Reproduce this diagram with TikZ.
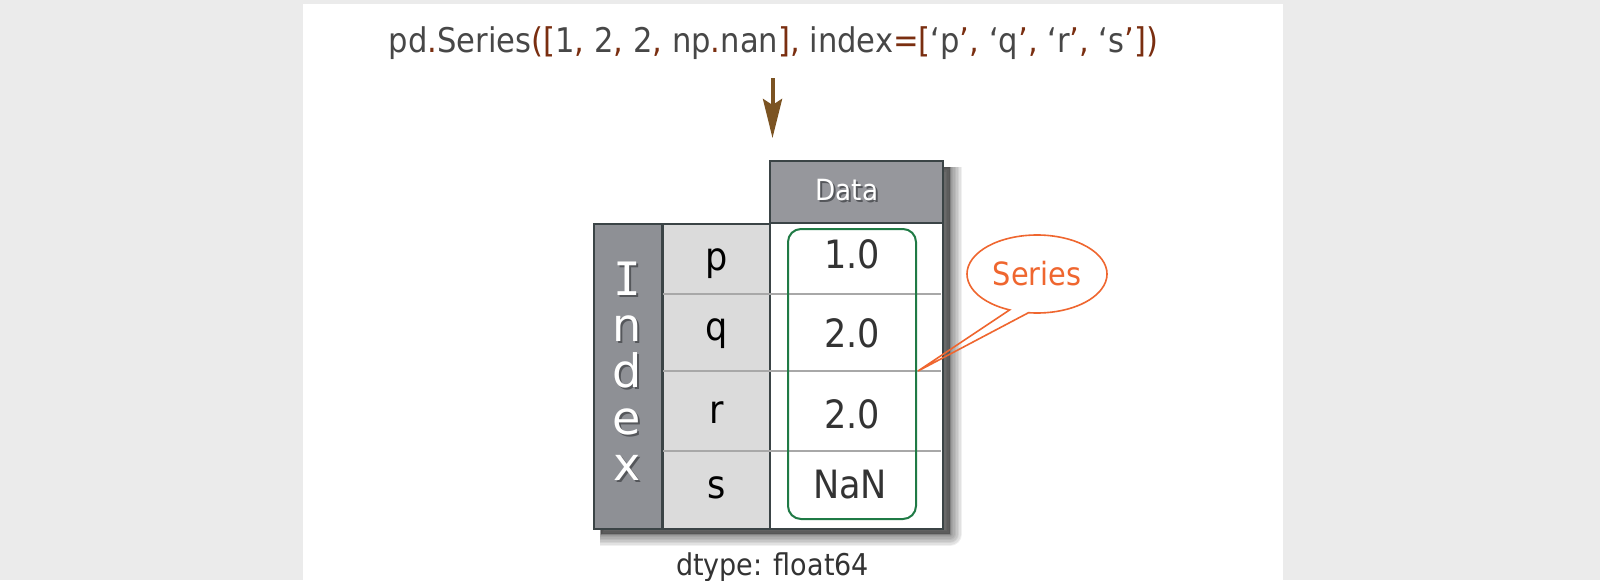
\documentclass[tikz,border=0pt]{standalone}
\usepackage{fontspec}
\setmainfont[FakeStretch=0.9]{DejaVu Sans}
\newfontfamily\plainfont{DejaVu Sans}
\newfontfamily\monoI{DejaVu Sans Mono}
\usetikzlibrary{arrows.meta}
\definecolor{bg}{HTML}{EBEBEB}
\definecolor{tgray}{HTML}{474747}
\definecolor{tbrown}{HTML}{7A2E10}
\definecolor{abrown}{HTML}{7B5322}
\definecolor{bord}{HTML}{3B4446}
\definecolor{idxgray}{HTML}{8E9095}
\definecolor{hdrgray}{HTML}{96979C}
\definecolor{labgray}{HTML}{DBDBDB}
\definecolor{rowline}{HTML}{A8A8A8}
\definecolor{sgreen}{HTML}{1F7A45}
\definecolor{sorange}{HTML}{EF662F}
\definecolor{txt}{HTML}{333333}
\definecolor{tshad}{HTML}{55575B}
\newcommand\brn[1]{\textcolor{tbrown}{#1}}
\newcommand\shadtext[1]{\rlap{\raisebox{-1pt}{\hspace{1pt}\textcolor{tshad}{#1}}}\textcolor{white}{#1}}
\begin{document}
\begin{tikzpicture}[x=0.5pt,y=-0.5pt,
  cell/.style={draw=bord, line width=1pt, inner sep=0pt, anchor=north west},
  rowsep/.style={draw=rowline, line width=0.6pt},
  labtext/.style={anchor=base, inner sep=0pt, text=black, font=\fontsize{19.5}{23}\selectfont},
  valtext/.style={anchor=base, inner sep=0pt, text=txt, font=\fontsize{19.5}{23}\selectfont},
  idxword/.style={anchor=north, inner sep=0pt, align=center, font=\plainfont\fontsize{23}{23.1}\selectfont},
  greenbox/.style={draw=sgreen, line width=1pt, rounded corners=6.5pt, inner sep=0pt, anchor=north west},
  callline/.style={draw=sorange, line width=0.8pt, line join=miter},
  flowarrow/.style={draw=abrown, line width=2pt, -{Stealth[length=19.5pt,width=9.5pt,inset=3pt]}},
  shadowlayer/.style={fill=black, draw=black, opacity=0.06, line join=round}
]
\useasboundingbox (0,0) rectangle (1600,580);
\fill[bg] (0,0) rectangle (1600,580);
\fill[white] (303,4) rectangle (1283,580);

% title
\node[anchor=base, inner sep=0pt, text=tgray, font=\fontsize{17}{20}\selectfont] (title) at (773.5,52)
  {pd\brn{.}Series\brn{([}1\brn{,} 2\brn{,} 2\brn{,} np\brn{.}nan\brn{],} index\brn{=[}‘p\brn{’,} ‘q\brn{’,} ‘r\brn{’,} ‘s\brn{’])}};

\coordinate (astart) at (772.5,78);
\coordinate (aend) at (772.5,138);
\draw[flowarrow] (astart) -- (aend);

% table shadow (soft, offset right/down)
\begin{scope}
\clip (777,167) -- (995,167) -- (995,560) -- (600,560) -- (600,229) -- (777,229) -- cycle;
\foreach \w in {24,21,18,15,12,9,6,3,0} {
  \path[shadowlayer, line width=\w*0.5pt] (777,167) -- (950,167) -- (950,534) -- (601,534) -- (601,229) -- (777,229) -- cycle;
}
\end{scope}

% cells
\node[cell, fill=idxgray, minimum width=34pt, minimum height=152.5pt] (index) at (593,223) {};
\node[cell, fill=labgray, minimum width=53.5pt, minimum height=152.5pt] (labels) at (662,223) {};
\node[cell, fill=white, minimum width=86.5pt, minimum height=153pt] (data) at (769,222) {};
\node[cell, fill=hdrgray, minimum width=86.5pt, minimum height=31pt] (header) at (769,160) {};

% row separators
\foreach \yy in {294,371,451} { \draw[rowsep] (663,\yy) -- (941,\yy); }

% header text
\node[anchor=base, inner sep=0pt, font=\fontsize{14.6}{17}\selectfont] (datatext) at (847,200) {\shadtext{Data}};

% index word, stacked
\node[idxword] (idxw) at (627,261.5) {\shadtext{\monoI I}\\\shadtext{n}\\\shadtext{d}\\\shadtext{e}\\\shadtext{x}};

% row labels
\node[labtext] (lp) at (717,270) {p};
\node[labtext] (lq) at (717,340) {q};
\node[labtext] (lr) at (717,423) {r};
\node[labtext] (ls) at (717,498) {s};

% values
\node[valtext] (v1) at (852,268) {1.0};
\node[valtext] (v2) at (852,347) {2.0};
\node[valtext] (v3) at (852,428) {2.0};
\node[valtext] (v4) at (850,498) {NaN};

% series box
\node[greenbox, minimum width=64pt, minimum height=145pt] (series) at (787,228) {};

% callout
\coordinate (tip) at (918,371);
\node[inner sep=0pt, text=sorange, font=\fontsize{16}{19}\selectfont] (callout) at (1037,274) {Series};
\draw[callline] (callout.center) ++(113:70 and 39) arc[start angle=113, end angle=457, x radius=70, y radius=39] -- (tip) -- cycle;

% dtype
\node[anchor=base, inner sep=0pt, text=txt, font=\fontsize{15}{18}\selectfont] (dtype) at (772.5,575) {dtype: float64};
\end{tikzpicture}
\end{document}
